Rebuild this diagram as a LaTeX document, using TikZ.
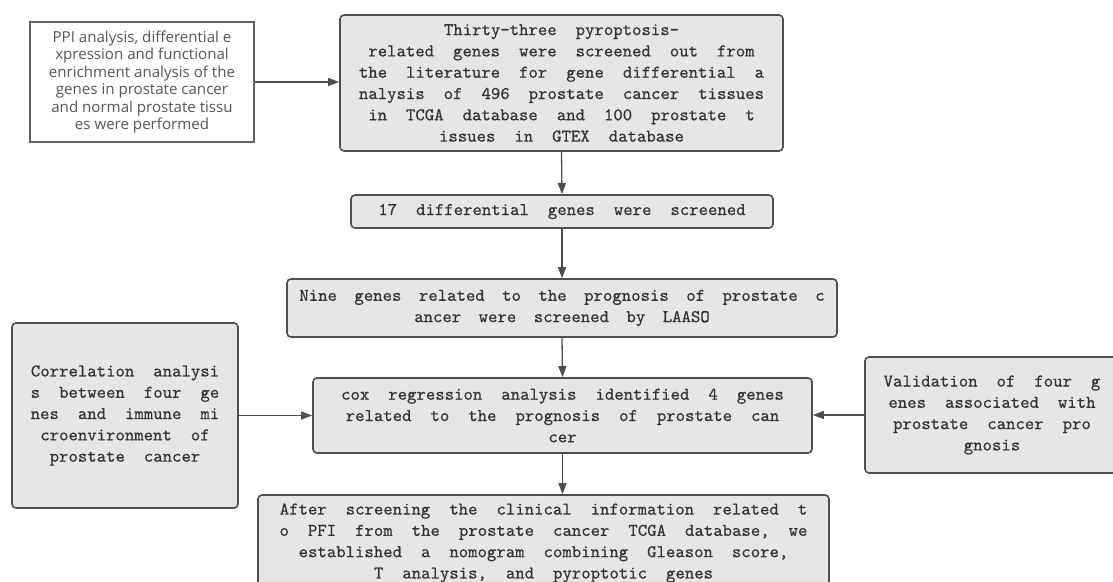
\documentclass[tikz,border=0pt]{standalone}
\usepackage{fontspec}
\usetikzlibrary{arrows.meta}
\newfontfamily\monof[FakeBold=0.5]{lmmono10-regular.otf}
\newfontfamily\ppif{Open Sans}
\definecolor{boxfill}{HTML}{E6E6E6}
\definecolor{boxline}{HTML}{4A4F55}
\definecolor{txt}{HTML}{333333}
\definecolor{ppiline}{HTML}{5E6266}
\definecolor{ppitxt}{HTML}{555555}
\tikzset{
  x=1pt, y=1pt,
  gbox/.style={draw=boxline, line width=1.6pt, fill=boxfill, rounded corners=4pt,
    inner sep=0pt, align=center, text=txt,
    font={\monof\fontsize{17.9}{21.3}\selectfont\spaceskip=19pt plus 4pt}},
  wbox/.style={draw=ppiline, line width=1.6pt, fill=white, inner sep=0pt, align=center,
    text=ppitxt, font={\ppif\fontsize{15.1}{17.4}\selectfont}},
  conn/.style={draw=boxline, line width=1.3pt, -{Triangle[length=11pt,width=8pt]}},
}
\begin{document}
\begin{tikzpicture}
\useasboundingbox (0,0) rectangle (1113,581);
% image y -> tikz y = 581 - y
\node[wbox, minimum width=224pt, minimum height=120pt] (ppi) at (142,499)
  {PPI analysis, differential e\\xpression and functional\\enrichment analysis of the\\genes in prostate cancer\\and normal prostate tissu\\es were performed};
\node[gbox, minimum width=443pt, minimum height=136pt] (thirty) at (561.5,498)
  {Thirty-three pyroptosis-\\related genes were screened out from\\the literature for gene differential a\\nalysis of 496 prostate cancer tissues\\in TCGA database and 100 prostate t\\issues in GTEX database};
\node[gbox, minimum width=422pt, minimum height=33pt] (seventeen) at (562,369.5)
  {17 differential genes were screened};
\node[gbox, minimum width=550pt, minimum height=58pt, font={\monof\fontsize{17.9}{21.3}\selectfont\spaceskip=17.5pt}] (nine) at (562,273)
  {Nine genes related to the prognosis of prostate c\\ancer were screened by LAASO};
\node[gbox, minimum width=499pt, minimum height=75pt] (cox) at (562.5,165.5)
  {cox regression analysis identified 4 genes\\related to the prognosis of prostate can\\cer};
\node[gbox, minimum width=226pt, minimum height=185pt] (corr) at (125,165.5)
  {Correlation analysi\\s between four ge\\nes and immune mi\\croenvironment of\\prostate cancer};
\node[gbox, minimum width=254pt, minimum height=116pt] (valid) at (992,166)
  {Validation of four g\\enes associated with\\prostate cancer pro\\gnosis};
\node[gbox, minimum width=571pt, minimum height=96pt] (bottom) at (543.5,38)
  {After screening the clinical information related t\\o PFI from the prostate cancer TCGA database, we\\established a nomogram combining Gleason score,\\T analysis, and pyroptotic genes};
\draw[conn] (ppi.east) -- (thirty.west |- ppi.east);
\draw[conn] (thirty.south) -- (seventeen.north);
\draw[conn] (seventeen.south) -- (nine.north);
\draw[conn] (nine.south) -- (cox.north);
\draw[conn] (corr.east) -- (cox.west);
\draw[conn] (valid.west) -- (cox.east |- valid.west);
\draw[conn] (cox.south) -- (cox.south |- bottom.north);
\end{tikzpicture}
\end{document}
